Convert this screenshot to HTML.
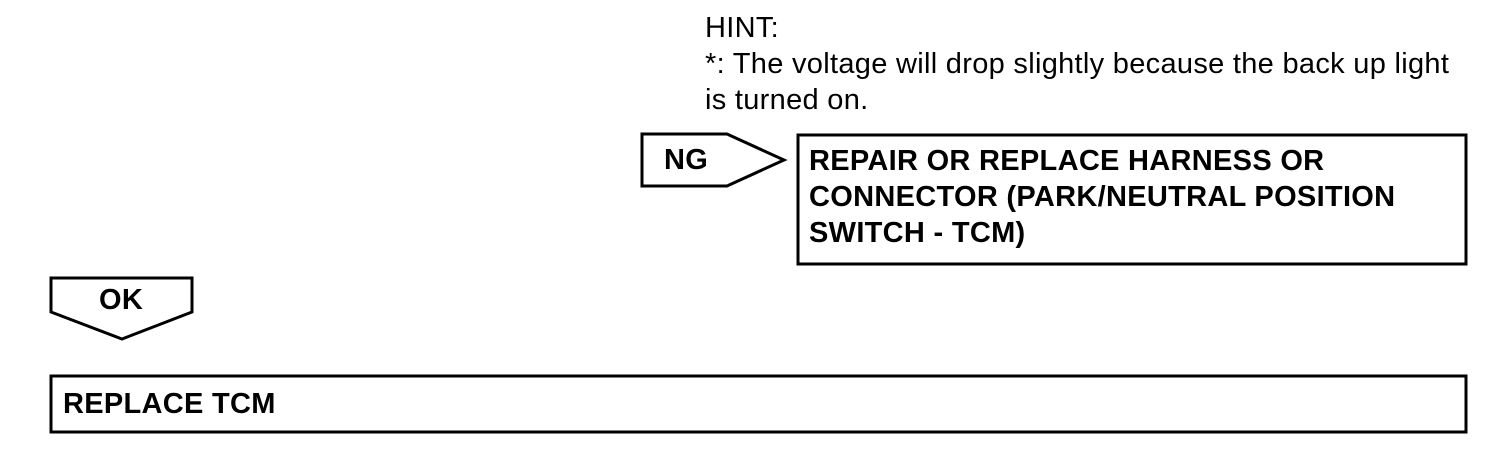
<!DOCTYPE html>
<html><head><style>
body{margin:0;width:1504px;height:476px;background:#fff;position:relative;overflow:hidden;font-family:"Liberation Sans",Arial,sans-serif;}
.t{position:absolute;font-size:29px;color:#000;white-space:nowrap;line-height:32px;letter-spacing:0.3px;}
.b{font-weight:bold;}
</style></head><body>
<svg width="1504" height="476" style="position:absolute;left:0;top:0" fill="none" stroke="#000" stroke-width="3">
<polygon points="642,134 727,134 784,160 727,186 642,186"/>
<rect x="798" y="135" width="668" height="129"/>
<polygon points="51,278 192,278 192,312 122,339 51,312"/>
<rect x="51" y="376" width="1415" height="56"/>
</svg>
<div class="t" style="left:705px;top:12px">HINT:</div>
<div class="t" style="left:705px;top:48px">*: The voltage will drop slightly because the back up light</div>
<div class="t" style="left:705px;top:84px">is turned on.</div>
<div class="t b" style="left:664px;top:144px">NG</div>
<div class="t b" style="left:809px;top:145px">REPAIR OR REPLACE HARNESS OR</div>
<div class="t b" style="left:809px;top:181px">CONNECTOR (PARK/NEUTRAL POSITION</div>
<div class="t b" style="left:809px;top:217px">SWITCH - TCM)</div>
<div class="t b" style="left:99px;top:284px">OK</div>
<div class="t b" style="left:63px;top:388px">REPLACE TCM</div>
</body></html>
